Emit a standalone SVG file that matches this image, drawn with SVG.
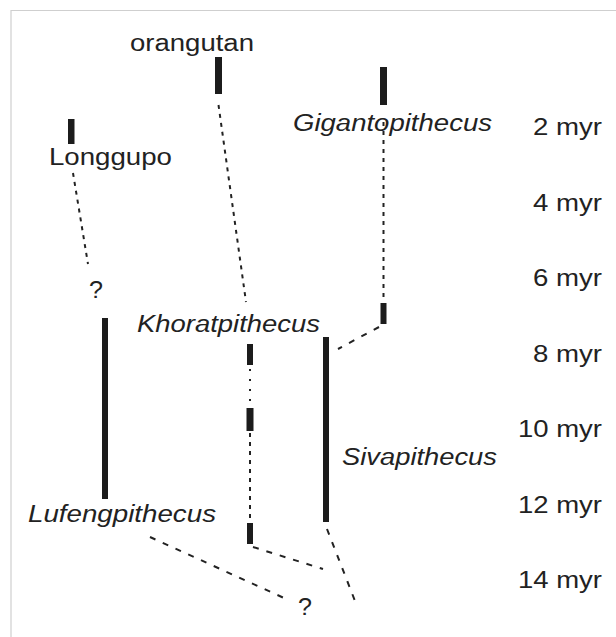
<svg xmlns="http://www.w3.org/2000/svg" width="616" height="637" viewBox="0 0 616 637">
<style>
  text { font-family: "Liberation Sans", Arial, sans-serif; font-size: 23.5px; fill: #222; }
  .it { font-style: italic; }
  .bar { fill: #1c1c1c; }
  .dot { fill: none; stroke: #222; stroke-width: 2; stroke-dasharray: 4 5; }
  .dash { fill: none; stroke: #222; stroke-width: 2; stroke-dasharray: 6 8; }
  .fine { fill: none; stroke: #222; stroke-width: 2; stroke-dasharray: 2 8; }
</style>
<rect width="616" height="637" fill="#fff"/>
<path d="M11 637 V10.5 H616" fill="none" stroke="#cfcfcf" stroke-width="1.2"/>

<g id="connectors">
  <line class="dot" x1="73" y1="173" x2="88" y2="264"/>
  <line class="dot" x1="218.5" y1="105" x2="246" y2="302"/>
  <line class="dot" x1="383.5" y1="122" x2="383.5" y2="298"/>
  <line class="dash" x1="379" y1="327" x2="338" y2="349"/>
  <line class="fine" x1="250" y1="369" x2="250" y2="407"/>
  <line class="dot" x1="250" y1="433" x2="250" y2="522"/>
  <line class="dash" x1="253" y1="547" x2="323" y2="569"/>
  <line class="dash" x1="327" y1="529" x2="355" y2="601"/>
  <line class="dash" x1="150" y1="537" x2="284" y2="598"/>
</g>

<g id="orangutan">
  <text x="130" y="50.5" textLength="124" lengthAdjust="spacingAndGlyphs">orangutan</text>
  <rect class="bar" x="215" y="57" width="7" height="37"/>
</g>
<g id="gigantopithecus">
  <rect class="bar" x="380" y="67" width="7" height="38"/>
  <text class="it" x="293" y="130.5" textLength="199" lengthAdjust="spacingAndGlyphs">Gigantopithecus</text>
  <rect class="bar" x="380.5" y="303" width="6" height="21"/>
</g>
<g id="longgupo">
  <rect class="bar" x="68" y="119" width="6.5" height="25"/>
  <text x="49" y="165" textLength="123" lengthAdjust="spacingAndGlyphs">Longgupo</text>
  <text x="89" y="297.5" textLength="14" lengthAdjust="spacingAndGlyphs">?</text>
</g>
<g id="khoratpithecus">
  <text class="it" x="137" y="331.5" textLength="183" lengthAdjust="spacingAndGlyphs">Khoratpithecus</text>
  <rect class="bar" x="247" y="344" width="6" height="21"/>
  <rect class="bar" x="246.5" y="408" width="7" height="23"/>
  <rect class="bar" x="247" y="523" width="6" height="21"/>
</g>
<g id="sivapithecus">
  <rect class="bar" x="323" y="337" width="6" height="185"/>
  <text class="it" x="342" y="465" textLength="155" lengthAdjust="spacingAndGlyphs">Sivapithecus</text>
</g>
<g id="lufengpithecus">
  <rect class="bar" x="102" y="318" width="6" height="181"/>
  <text class="it" x="28" y="521.5" textLength="188" lengthAdjust="spacingAndGlyphs">Lufengpithecus</text>
</g>
<g id="unknown-ancestor">
  <text x="298" y="614.5" textLength="14" lengthAdjust="spacingAndGlyphs">?</text>
</g>

<g id="timescale" text-anchor="end">
  <text x="602" y="135" textLength="69" lengthAdjust="spacingAndGlyphs">2 myr</text>
  <text x="602" y="210.5" textLength="69" lengthAdjust="spacingAndGlyphs">4 myr</text>
  <text x="602" y="286" textLength="69" lengthAdjust="spacingAndGlyphs">6 myr</text>
  <text x="602" y="361.5" textLength="69" lengthAdjust="spacingAndGlyphs">8 myr</text>
  <text x="602" y="437" textLength="84" lengthAdjust="spacingAndGlyphs">10 myr</text>
  <text x="602" y="512.5" textLength="84" lengthAdjust="spacingAndGlyphs">12 myr</text>
  <text x="602" y="588" textLength="84" lengthAdjust="spacingAndGlyphs">14 myr</text>
</g>
</svg>
